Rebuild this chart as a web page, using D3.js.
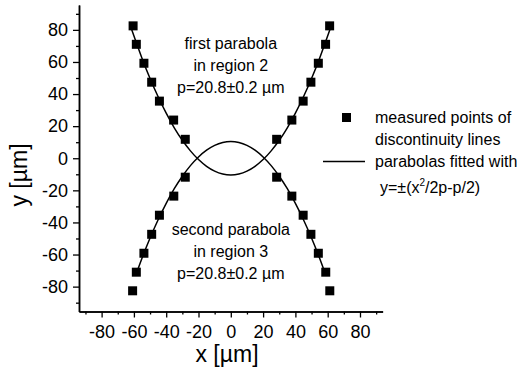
<!DOCTYPE html>
<html>
<head>
<meta charset="utf-8">
<script src="https://cdn.jsdelivr.net/npm/d3@7"></script>
<style>
  html, body { margin: 0; padding: 0; background: #fff; }
  svg { display: block; font-family: "Liberation Sans", Arial, Helvetica, sans-serif; }
</style>
</head>
<body>
<svg id="chart" width="522" height="372"></svg>
<script>
// measured points of discontinuity lines
const upperLeftX  = [-60.5, -58.5, -53.8, -49.0, -44.2, -35.4, -28.2];
const upperRightX = [61.2, 58.7, 54.2, 49.6, 44.8, 37.8, 28.4];
const upperY      = [82.5, 71.0, 59.2, 47.4, 35.6, 23.8, 11.8];
const lowerLeftX  = [-60.8, -58.5, -53.8, -49.0, -44.2, -35.3, -28.2];
const lowerRightX = [61.3, 58.8, 54.2, 49.6, 44.8, 37.8, 28.4];
const lowerY      = [-82.6, -71.0, -59.2, -47.4, -35.5, -23.6, -11.8];

// fitted parabolas
const fit1X = [-61.5,-55,-50,-45,-40,-35,-30,-25,-20,-15,-10,-5,0,5,10,15,20,25,30,35,40,45,50,55,61.5];
const fit1Y = [80.5,62.3,49.7,38.3,28.1,19.0,11.2,4.6,-0.8,-5.0,-8.0,-9.8,-10.4,-9.8,-8.0,-5.0,-0.8,4.6,11.2,19.0,28.1,38.3,49.7,62.3,80.5];
const fit2X = [-58.5,-55,-50,-45,-40,-35,-30,-25,-20,-15,-10,-5,0,5,10,15,20,25,30,35,40,45,50,55,58.5];
const fit2Y = [-71.9,-62.3,-49.7,-38.3,-28.1,-19.0,-11.2,-4.6,0.8,5.0,8.0,9.8,10.4,9.8,8.0,5.0,0.8,-4.6,-11.2,-19.0,-28.1,-38.3,-49.7,-62.3,-71.9];

// ticks
const majorTicks = [-80, -60, -40, -20, 0, 20, 40, 60, 80];
const minorTicks = [-90, -70, -50, -30, -10, 10, 30, 50, 70, 90];

// texts
const annotTop = ["first parabola", "in region 2", "p=20.8\u00B10.2 \u00B5m"];
const annotBottom = ["second parabola", "in region 3", "p=20.8\u00B10.2 \u00B5m"];
const legendPoints = ["measured points of", "discontinuity lines"];
const legendLine = "parabolas fitted with";

const svg = d3.select("#chart");
const x = d3.scaleLinear().domain([-94, 94]).range([79, 382.6]);
const y = d3.scaleLinear().domain([-95.5, 95.5]).range([311.5, 5]);

// axes
const fmt = d => String(d);
const xAxis = svg.append("g").attr("transform", `translate(0,${y(-95.5)})`)
  .call(d3.axisBottom(x).tickValues(majorTicks).tickFormat(fmt).tickSize(6).tickPadding(8).tickSizeOuter(0));
svg.append("g").attr("transform", `translate(0,${y(-95.5)})`)
  .call(d3.axisBottom(x).tickValues(minorTicks).tickFormat("").tickSize(3).tickSizeOuter(0));
const yAxis = svg.append("g").attr("transform", `translate(${x(-94)},0)`)
  .call(d3.axisLeft(y).tickValues(majorTicks).tickFormat(fmt).tickSize(6).tickPadding(5).tickSizeOuter(0));
svg.append("g").attr("transform", `translate(${x(-94)},0)`)
  .call(d3.axisLeft(y).tickValues(minorTicks).tickFormat("").tickSize(3).tickSizeOuter(0));

svg.selectAll(".domain").attr("stroke", "#000").attr("stroke-width", 1.5);
svg.selectAll(".tick line").attr("stroke", "#000").attr("stroke-width", 1.3);
svg.selectAll(".tick text").attr("fill", "#000").style("font-size", "18px")
  .style("font-family", "'Liberation Sans', Arial, sans-serif");

// axis titles
svg.append("text").attr("x", 227).attr("y", 362).attr("text-anchor", "middle")
  .style("font-size", "23px").text("x [\u00B5m]");
svg.append("text").attr("transform", "translate(27,175) rotate(-90)").attr("text-anchor", "middle")
  .style("font-size", "23px").text("y [\u00B5m]");

// fitted curves
const line = d3.line().x(d => x(d[0])).y(d => y(d[1])).curve(d3.curveNatural);
[[fit1X, fit1Y], [fit2X, fit2Y]].forEach(([xs, ys]) => {
  svg.append("path").datum(xs.map((v, i) => [v, ys[i]]))
    .attr("d", line).attr("fill", "none").attr("stroke", "#000").attr("stroke-width", 1.5);
});

// points
const sq = 9;
const pts = [];
[[upperLeftX, upperY], [upperRightX, upperY], [lowerLeftX, lowerY], [lowerRightX, lowerY]]
  .forEach(([xs, ys]) => xs.forEach((v, i) => pts.push([v, ys[i]])));
svg.append("g").selectAll("rect").data(pts).join("rect")
  .attr("x", d => x(d[0]) - sq / 2).attr("y", d => y(d[1]) - sq / 2)
  .attr("width", sq).attr("height", sq).attr("fill", "#000");

// annotations
const ann = svg.append("g").attr("text-anchor", "middle").style("font-size", "16px");
annotTop.forEach((t, i) => ann.append("text").attr("x", x(0)).attr("y", 49 + i * 22).text(t));
annotBottom.forEach((t, i) => ann.append("text").attr("x", x(0)).attr("y", 235 + i * 22).text(t));

// legend
const lg = svg.append("g").style("font-size", "16px");
lg.append("rect").attr("x", 342).attr("y", 113).attr("width", sq).attr("height", sq).attr("fill", "#000");
legendPoints.forEach((t, i) => lg.append("text").attr("x", 375).attr("y", 123 + i * 22).text(t));
lg.append("line").attr("x1", 323).attr("x2", 365).attr("y1", 161.5).attr("y2", 161.5)
  .attr("stroke", "#000").attr("stroke-width", 1.5);
lg.append("text").attr("x", 375).attr("y", 167).text(legendLine);
const f = lg.append("text").attr("x", 380).attr("y", 193);
f.append("tspan").text("y=\u00B1(x");
f.append("tspan").attr("dy", -7).style("font-size", "10px").text("2");
f.append("tspan").attr("dy", 7).text("/2p-p/2)");
</script>
</body>
</html>
